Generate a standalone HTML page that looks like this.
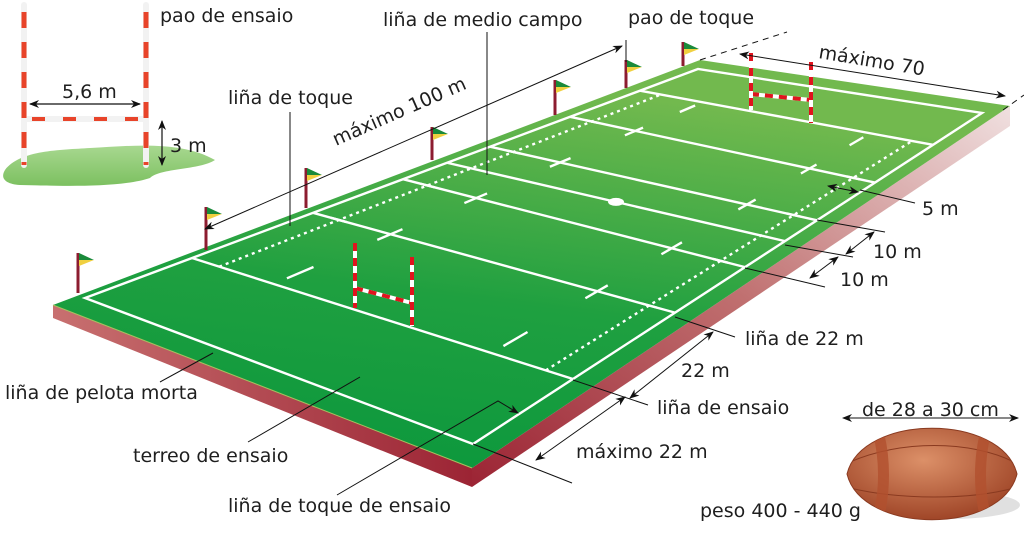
<!DOCTYPE html>
<html><head><meta charset="utf-8"><style>
html,body{margin:0;padding:0;background:#fff;}
svg{display:block;}
text{font-family:"DejaVu Sans","Liberation Sans",sans-serif;font-size:19px;fill:#1e1e1e;}
</style></head><body>
<svg id="s" width="1024" height="534" viewBox="0 0 1024 534" xmlns="http://www.w3.org/2000/svg">
<defs>
<linearGradient id="gf" x1="0" y1="1" x2="0.3" y2="0"><stop offset="0" stop-color="#08963c"/><stop offset="0.5" stop-color="#1fa040"/><stop offset="1" stop-color="#72b94e"/></linearGradient>
<linearGradient id="gn" x1="0" y1="0" x2="1" y2="0"><stop offset="0" stop-color="#c87070"/><stop offset="1" stop-color="#9c2434"/></linearGradient>
<linearGradient id="gr" x1="0" y1="1" x2="1" y2="0"><stop offset="0" stop-color="#9c2434"/><stop offset="0.5" stop-color="#c07070"/><stop offset="1" stop-color="#f0e0e0"/></linearGradient>
<radialGradient id="gb" cx="0.45" cy="0.35" r="0.65"><stop offset="0" stop-color="#dc9068"/><stop offset="1" stop-color="#a04628"/></radialGradient>
<linearGradient id="gg" x1="0" y1="0" x2="0" y2="1"><stop offset="0" stop-color="#a8d890"/><stop offset="1" stop-color="#7cc060"/></linearGradient>
<clipPath id="bc"><path d="M847,474 C862,413 1002,413 1017,474 C1002,535 862,535 847,474z"/></clipPath>
<marker id="ah" markerWidth="10" markerHeight="8" refX="9" refY="4" orient="auto-start-reverse" markerUnits="userSpaceOnUse"><path d="M0,0 L10,4 L0,8 L3,4z" fill="#111"/></marker>
</defs>
<path d="M5,170 C20,150 60,150 90,148 C130,146 180,140 215,160 C200,170 160,168 150,178 C120,188 60,186 20,185 C5,184 0,178 5,170z" fill="url(#gg)"/>
<line x1="24" y1="5" x2="24" y2="165" stroke="#f2f2f2" stroke-width="6" stroke-linecap="round"/>
<line x1="24" y1="12" x2="24" y2="165" stroke="#e8442a" stroke-width="5" stroke-dasharray="16,14"/>
<line x1="146" y1="5" x2="146" y2="165" stroke="#f2f2f2" stroke-width="6" stroke-linecap="round"/>
<line x1="146" y1="12" x2="146" y2="165" stroke="#e8442a" stroke-width="5" stroke-dasharray="16,14"/>
<line x1="27" y1="119" x2="143" y2="119" stroke="#f2f2f2" stroke-width="6"/>
<line x1="32" y1="119" x2="143" y2="119" stroke="#e8442a" stroke-width="4" stroke-dasharray="13,18"/>
<line x1="30" y1="104" x2="140" y2="104" stroke="#111" stroke-width="1.2" marker-start="url(#ah)" marker-end="url(#ah)"/>
<line x1="162" y1="121" x2="162" y2="165" stroke="#111" stroke-width="1.2" marker-start="url(#ah)" marker-end="url(#ah)"/>
<text x="62" y="98">5,6 m</text>
<text x="170" y="152">3 m</text>
<text x="160" y="22">pao de ensaio</text>
<g id="field"></g>
<g stroke="#111" stroke-width="1" fill="none">
<line x1="626" y1="40" x2="626" y2="62"/>
<line x1="487" y1="32" x2="487" y2="175"/>
<line x1="290" y1="112" x2="290" y2="226"/>
<line x1="205" y1="229" x2="622" y2="46" marker-start="url(#ah)" marker-end="url(#ah)"/>
<line x1="700" y1="60" x2="787" y2="32" stroke-dasharray="6,5"/>
<line x1="1003" y1="110" x2="1024" y2="95" stroke-dasharray="6,5"/>
<line x1="740" y1="54" x2="1005" y2="96" marker-start="url(#ah)" marker-end="url(#ah)"/>
<line x1="860" y1="190" x2="915" y2="203"/>
<line x1="828" y1="186" x2="858" y2="192" marker-start="url(#ah)" marker-end="url(#ah)"/>
<line x1="817" y1="220" x2="885" y2="232"/>
<line x1="785" y1="245" x2="853" y2="257"/>
<line x1="745" y1="268" x2="825" y2="287"/>
<line x1="846" y1="254" x2="874" y2="232" marker-start="url(#ah)" marker-end="url(#ah)"/>
<line x1="810" y1="278" x2="838" y2="257" marker-start="url(#ah)" marker-end="url(#ah)"/>
<line x1="675" y1="317" x2="735" y2="337"/>
<line x1="630" y1="398" x2="713" y2="332" marker-start="url(#ah)" marker-end="url(#ah)"/>
<line x1="573" y1="380" x2="648" y2="405"/>
<line x1="536" y1="460" x2="625" y2="397" marker-start="url(#ah)" marker-end="url(#ah)"/>
<line x1="473" y1="444" x2="572" y2="483"/>
<line x1="160" y1="382" x2="213" y2="353"/>
<line x1="248" y1="442" x2="360" y2="377"/>
<polyline points="337,495 498,401 518,413" marker-end="url(#ah)"/>
<line x1="843" y1="418" x2="1018" y2="418" marker-start="url(#ah)" marker-end="url(#ah)"/>
</g>
<text x="628" y="24">pao de toque</text>
<text x="383" y="26">liña de medio campo</text>
<text x="228" y="104">liña de toque</text>
<text transform="translate(336,146) rotate(-23.7)">máximo 100 m</text>
<text transform="translate(818,58) rotate(9.5)">máximo 70</text>
<text x="922" y="215">5 m</text>
<text x="873" y="258">10 m</text>
<text x="840" y="286">10 m</text>
<text x="745" y="345">liña de 22 m</text>
<text x="681" y="377">22 m</text>
<text x="657" y="414">liña de ensaio</text>
<text x="576" y="458">máximo 22 m</text>
<text x="5" y="399">liña de pelota morta</text>
<text x="133" y="462">terreo de ensaio</text>
<text x="228" y="512">liña de toque de ensaio</text>
<text x="862" y="416">de 28 a 30 cm</text>
<text x="700" y="517">peso 400 - 440 g</text>
<ellipse cx="950" cy="505" rx="70" ry="14" fill="#ccc" opacity="0.6"/>
<path d="M847,474 C862,413 1002,413 1017,474 C1002,535 862,535 847,474z" fill="url(#gb)" stroke="#8a3a20" stroke-width="1"/>
<g clip-path="url(#bc)" fill="none">
<path d="M850,462 C900,440 970,440 1014,462" stroke="#8a3a20" stroke-width="1"/>
<path d="M850,488 C900,500 970,500 1014,488" stroke="#8a3a20" stroke-width="1"/>
<path d="M876,425 C886,455 886,495 876,525" stroke="#b2502e" stroke-width="11" opacity="0.8"/>
<path d="M988,425 C978,455 978,495 988,525" stroke="#b2502e" stroke-width="11" opacity="0.8"/>
</g>
</svg>
<script>
(function(){
var NS="http://www.w3.org/2000/svg",g=document.getElementById("field");
function el(t,a){var e=document.createElementNS(NS,t);for(var k in a)e.setAttribute(k,a[k]);g.appendChild(e);return e;}
var U=[0,22,44,62,72,82,100,122,144];
var AB=[85,192,313,403,447,490,570,640,698];
var DC=[473,573,675,745,785,817,875,933,982];
function interp(arr,u){for(var i=0;i<U.length-1;i++){if(u<=U[i+1]){var t=(u-U[i])/(U[i+1]-U[i]);return arr[i]+t*(arr[i+1]-arr[i]);}}return arr[arr.length-1];}
function abP(u){var x=interp(AB,u);return [x,298-(x-85)*(229/613)];}
function dcP(u){var x=interp(DC,u);return [x,444-(x-473)*(331/509)];}
function M(u,v){var p=abP(u),q=dcP(u),t=v/70;return [p[0]+(q[0]-p[0])*t,p[1]+(q[1]-p[1])*t];}
function L(p,q,sw,da){var o={x1:p[0],y1:p[1],x2:q[0],y2:q[1],stroke:"#fff","stroke-width":sw||2.4};if(da)o["stroke-dasharray"]=da;el("line",o);}
el("polygon",{points:"53,305 472,468 472,487 53,318",fill:"url(#gn)"});
el("polygon",{points:"472,468 1010,106 1010,126 472,487",fill:"url(#gr)"});
el("polygon",{points:"53,305 700,60 1010,106 472,468",fill:"url(#gf)"});
el("line",{x1:53,y1:305,x2:472,y2:468,stroke:"#a8c060","stroke-width":1});
el("polygon",{points:"85,298 698,69 982,113 473,444",fill:"none",stroke:"#fff","stroke-width":2.4});
[22,44,62,72,82,100,122].forEach(function(u){L(M(u,0),M(u,70));});
function dotted(v){var pts=[];for(var u=22;u<=122;u+=1)pts.push(M(u,v).join(","));el("polyline",{points:pts.join(" "),fill:"none",stroke:"#fff","stroke-width":2.4,"stroke-dasharray":"3,4"});}
dotted(5);dotted(65);
[27,44,62,82,100,117].forEach(function(u){[15,55].forEach(function(v){L(M(u-2.5,v),M(u+2.5,v));});});
[44,62,82,100].forEach(function(u){[5,65].forEach(function(v){L(M(u,v-1.5),M(u,v+1.5));});});
var cs=M(72,35);el("ellipse",{cx:cs[0],cy:cs[1],rx:8,ry:4,fill:"#fff"});
[[78,253,293],[206,207,250],[306,168,208],[432,127,160],[555,80,115],[626,60,88],[683,42,66]].forEach(function(f){
el("line",{x1:f[0],y1:f[1],x2:f[0],y2:f[2],stroke:"#8c1c30","stroke-width":3});
el("polygon",{points:(f[0]+1)+","+f[1]+" "+(f[0]+16)+","+(f[1]+7)+" "+(f[0]+1)+","+(f[1]+7),fill:"#1a8a3a"});
el("polygon",{points:(f[0]+1)+","+(f[1]+7)+" "+(f[0]+16)+","+(f[1]+7)+" "+(f[0]+1)+","+(f[1]+13),fill:"#f0d040"});
});
function post(x,t,bt){el("line",{x1:x,y1:t,x2:x,y2:bt,stroke:"#fff","stroke-width":4});el("line",{x1:x,y1:t,x2:x,y2:bt,stroke:"#e0141e","stroke-width":4,"stroke-dasharray":"8,7"});}
function bar(xa,ya,xb,yb){el("line",{x1:xa,y1:ya,x2:xb,y2:yb,stroke:"#fff","stroke-width":4});el("line",{x1:xa,y1:ya,x2:xb,y2:yb,stroke:"#e0141e","stroke-width":4,"stroke-dasharray":"8,6"});}
bar(355,288,412,303);post(355,243,308);post(412,257,326);
bar(751,94,811,100);post(751,53,110);post(811,62,123);
})();
</script>
</body></html>
